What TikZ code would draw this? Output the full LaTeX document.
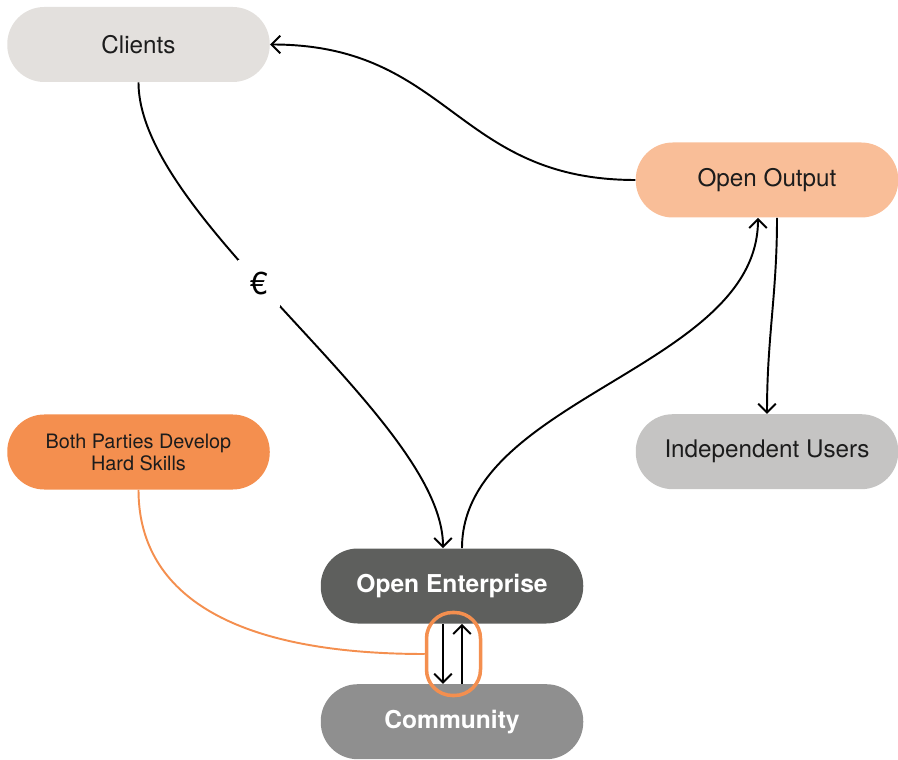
\documentclass[tikz,border=0pt]{standalone}
\usepackage{fontspec}
\setmainfont{TeX Gyre Heros}
\usetikzlibrary{positioning,shapes,arrows.meta}

\definecolor{clientgray}{HTML}{E3E0DD}
\definecolor{outputpeach}{HTML}{F9BE98}
\definecolor{usergray}{HTML}{C5C4C3}
\definecolor{skillorange}{HTML}{F48F4F}
\definecolor{entgray}{HTML}{5E5F5D}
\definecolor{comgray}{HTML}{8F8F8F}
\definecolor{inkdark}{HTML}{1C1C1C}

\begin{document}
\begin{tikzpicture}[
	pill/.style={rectangle, rounded corners=0.74cm, minimum width=5.25cm, minimum height=1.5cm, inner sep=0pt, align=center, text=inkdark, font=\fontsize{13.8}{16}\selectfont},
	flow/.style={-{Straight Barb[length=5pt,width=10pt]}, line width=1.1pt}
	]
	\useasboundingbox (0,0) rectangle (17.96,15.18);

	\node (clients) [pill, fill=clientgray] at (2.77,14.29) {Clients};
	\node (output) [pill, fill=outputpeach] at (15.34,11.58) {Open Output};
	\node (users) [pill, fill=usergray, below=3.92cm of output] {Independent Users};
	\node (skills) [pill, fill=skillorange, font=\fontsize{11.3}{12.5}\selectfont] at (2.77,6.14) {Both Parties Develop\\Hard Skills};
	\node (enterprise) [pill, fill=entgray, text=white, font=\bfseries\fontsize{14}{16}\selectfont] at (9.04,3.46) {Open Enterprise};
	\node (community) [pill, fill=comgray, text=white, font=\bfseries\fontsize{14}{16}\selectfont, below=1.2cm of enterprise] {Community};

	\draw[flow] (clients.south) .. controls +(0,-2.76) and +(0,2.6) .. ([xshift=-0.18cm]enterprise.north)
		node (euro) [pos=0.43, fill=white, inner sep=7pt, font=\fontsize{18}{20}\selectfont] {€};
	\draw[flow] (output.west) .. controls +(-3.6,0) and +(3.6,0) .. (clients.east);
	\draw[flow] ([xshift=0.2cm]enterprise.north) .. controls +(0,3) and +(0,-3) .. ([xshift=-0.18cm]output.south);
	\draw[flow] ([xshift=0.2cm]output.south) to[out=-90,in=90] (users.north);

	% exchange between enterprise and community
	\draw[flow] ([xshift=-0.18cm]enterprise.south) -- ([xshift=-0.18cm]community.north);
	\draw[flow] ([xshift=0.2cm]community.north) -- ([xshift=0.2cm]enterprise.south);
	\node (exchange) [rectangle, draw=skillorange, line width=2pt, rounded corners=0.52cm, minimum width=1.08cm, minimum height=1.66cm] at (9.07,2.1) {};
	\draw[skillorange, line width=1.1pt] (skills.south) .. controls +(0,-2) and +(-4,0) .. (exchange.west);
\end{tikzpicture}
\end{document}
